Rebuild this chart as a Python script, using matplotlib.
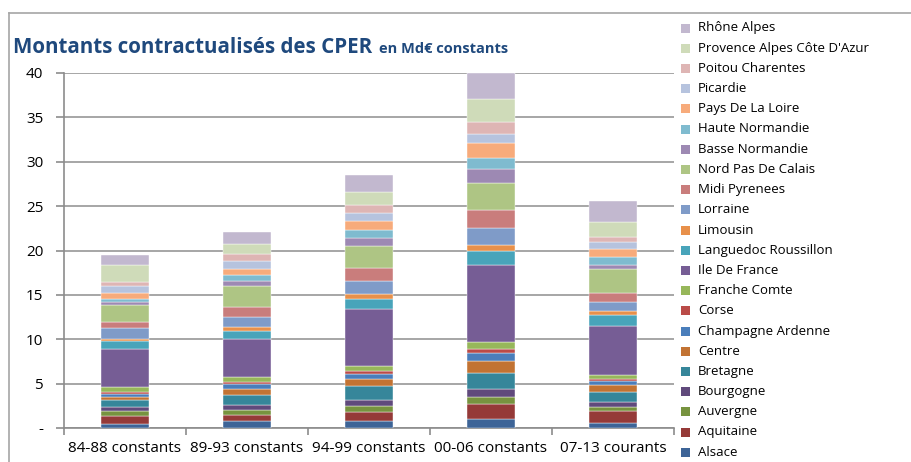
import matplotlib
matplotlib.use("Agg")
import matplotlib.pyplot as plt
from matplotlib.patches import Rectangle
from matplotlib.lines import Line2D
import numpy as np

periods = ["84-88 constants", "89-93 constants", "94-99 constants", "00-06 constants", "07-13 courants"]

regions = ["Alsace", "Aquitaine", "Auvergne", "Bourgogne", "Bretagne", "Centre",
           "Champagne Ardenne", "Corse", "Franche Comte", "Ile De France",
           "Languedoc Roussillon", "Limousin", "Lorraine", "Midi Pyrenees",
           "Nord Pas De Calais", "Basse Normandie", "Haute Normandie",
           "Pays De La Loire", "Picardie", "Poitou Charentes",
           "Provence Alpes Côte D'Azur", "Rhône Alpes"]

alsace      = [0.45, 0.75, 0.79, 1.02, 0.53]
aquitaine   = [0.94, 0.75, 0.98, 1.69, 1.35]
auvergne    = [0.49, 0.49, 0.68, 0.83, 0.49]
bourgogne   = [0.45, 0.56, 0.71, 0.86, 0.60]
bretagne    = [0.79, 1.20, 1.54, 1.80, 1.09]
centre      = [0.38, 0.60, 0.83, 1.35, 0.75]
champagne   = [0.34, 0.60, 0.60, 0.90, 0.45]
corse       = [0.26, 0.19, 0.30, 0.41, 0.30]
franche     = [0.53, 0.60, 0.56, 0.79, 0.41]
idf         = [4.32, 4.32, 6.47, 8.68, 5.49]
languedoc   = [0.83, 0.86, 1.13, 1.62, 1.28]
limousin    = [0.30, 0.41, 0.49, 0.64, 0.41]
lorraine    = [1.17, 1.13, 1.50, 1.99, 1.05]
midi        = [0.68, 1.13, 1.43, 1.95, 1.05]
nord        = [1.95, 2.41, 2.48, 3.05, 2.67]
basse_norm  = [0.30, 0.60, 0.94, 1.58, 0.49]
haute_norm  = [0.34, 0.60, 0.90, 1.28, 0.83]
pays_loire  = [0.68, 0.75, 0.98, 1.65, 0.98]
picardie    = [0.83, 0.83, 0.94, 1.09, 0.71]
poitou      = [0.41, 0.79, 0.83, 1.32, 0.64]
paca        = [1.95, 1.20, 1.47, 2.56, 1.69]
rhone       = [1.13, 1.35, 1.92, 2.89, 2.37]

series = [alsace, aquitaine, auvergne, bourgogne, bretagne, centre, champagne,
          corse, franche, idf, languedoc, limousin, lorraine, midi, nord,
          basse_norm, haute_norm, pays_loire, picardie, poitou, paca, rhone]

colors = ["#3D6497", "#953A38", "#77933F", "#604A7C", "#36869A", "#C27333",
          "#4A7EBB", "#BA4B48", "#97B75A", "#765D95", "#48A4BA", "#E8904A",
          "#7F9BC8", "#C97D7C", "#AEC584", "#9D89B3", "#7FBBCF", "#F7AB7B",
          "#B6C3DE", "#DEB5B4", "#CFDBB9", "#C2B8CF"]

W, H = 912, 462
fig = plt.figure(figsize=(W / 100, H / 100), dpi=100)
ax = fig.add_axes([64 / W, 1 - 428 / H, 610 / W, 355 / H])

x = np.arange(len(periods))
bottom = np.zeros(len(periods))
for vals, col, name in zip(series, colors, regions):
    ax.bar(x, vals, width=0.4, bottom=bottom, color=col, edgecolor="#FFFFFF",
           linewidth=0.3, label=name, zorder=3)
    bottom += np.array(vals)

ax.set_xlim(-0.5, len(periods) - 0.5)
ax.set_ylim(0, 40)
ax.set_yticks(np.arange(0, 41, 5))
ax.set_yticklabels(["-"] + [str(v) for v in range(5, 41, 5)])
ax.yaxis.grid(True, color="#A6A6A6", linewidth=1.4, zorder=0)
ax.set_axisbelow(True)

ax.set_xticks(x)
ax.set_xticklabels(periods)
ax.set_xticks(np.arange(-0.5, len(periods), 1.0), minor=True)
ax.tick_params(axis="x", which="major", length=0, pad=9, labelsize=11, labelcolor="#000000")
ax.tick_params(axis="x", which="minor", length=5, color="#8C8C8C", width=1.2)
ax.tick_params(axis="y", length=6, color="#8C8C8C", width=1.2, pad=9, labelsize=11)

for s in ["top", "right"]:
    ax.spines[s].set_visible(False)
ax.spines["left"].set_color("#8C8C8C")
ax.spines["left"].set_linewidth(1.2)
ax.spines["bottom"].set_color("#8C8C8C")
ax.spines["bottom"].set_linewidth(1.2)

for lbl in ax.get_xticklabels() + ax.get_yticklabels():
    lbl.set_family("Open Sans")

# Chart frame (top and left edges)
fig.add_artist(Line2D([9 / W, 1.0], [1 - 13 / H, 1 - 13 / H], color="#A6A6A6", linewidth=1.2))
fig.add_artist(Line2D([9 / W, 9 / W], [0.0, 1 - 13 / H], color="#A6A6A6", linewidth=1.2))

# Title
t = fig.text(13 / W, 1 - 53 / H, "Montants contractualisés des CPER", fontsize=14.8,
             fontweight="bold", color="#1F497D", family="Open Sans", va="baseline")
fig.canvas.draw()
bb = t.get_window_extent()
fig.text((bb.x1 + 7) / W, 1 - 53 / H, "en Md€ constants", fontsize=10.5,
         fontweight="bold", color="#1F497D", family="Open Sans", va="baseline")

# Legend (reverse order, top to bottom)
for i, (name, col) in enumerate(zip(regions[::-1], colors[::-1])):
    yc = 28 + i * 20.2
    fig.add_artist(Rectangle((681 / W, 1 - (yc + 4.5) / H), 9 / W, 9 / H,
                             facecolor=col, edgecolor="none", transform=fig.transFigure))
    fig.text(698 / W, 1 - yc / H, name, fontsize=9.5, va="center", ha="left",
             family="Open Sans", color="#000000")

fig.savefig("out.png", dpi=100)
